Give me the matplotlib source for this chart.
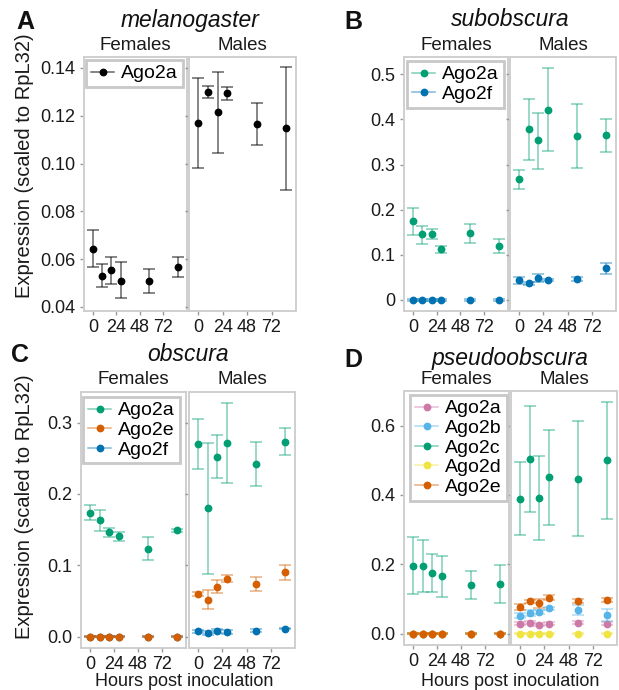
import matplotlib
matplotlib.use('Agg')
import matplotlib.pyplot as plt
from matplotlib.lines import Line2D

plt.rcParams['font.family'] = ['Liberation Sans', 'DejaVu Sans']

W, H = 619, 690
fig = plt.figure(figsize=(W / 100, H / 100), dpi=100)

# ---------------- data ----------------
hours = [0, 9.5, 19, 28.5, 57.5, 86.5]
xticks = [0, 24, 48, 72]

# A: melanogaster
a_f_ago2a = [0.0643, 0.0531, 0.0553, 0.0509, 0.0507, 0.0566]
a_f_ago2a_lo = [0.0566, 0.0485, 0.0496, 0.0438, 0.0457, 0.0526]
a_f_ago2a_hi = [0.0720, 0.0581, 0.0608, 0.0586, 0.0559, 0.0609]
a_m_ago2a = [0.1171, 0.1300, 0.1214, 0.1295, 0.1167, 0.1149]
a_m_ago2a_lo = [0.0983, 0.1274, 0.1045, 0.1264, 0.1078, 0.0890]
a_m_ago2a_hi = [0.1357, 0.1324, 0.1385, 0.1322, 0.1254, 0.1406]

# B: subobscura
b_f_ago2a = [0.174, 0.146, 0.146, 0.113, 0.148, 0.119]
b_f_ago2a_lo = [0.143, 0.125, 0.134, 0.105, 0.126, 0.105]
b_f_ago2a_hi = [0.204, 0.165, 0.158, 0.119, 0.169, 0.134]
b_f_ago2f = [0.0, 0.0, 0.0, 0.0, 0.0, 0.0]
b_f_ago2f_lo = [-0.002, -0.002, -0.002, -0.002, -0.002, -0.002]
b_f_ago2f_hi = [0.002, 0.002, 0.002, 0.002, 0.002, 0.002]
b_m_ago2a = [0.268, 0.379, 0.354, 0.422, 0.363, 0.365]
b_m_ago2a_lo = [0.246, 0.311, 0.291, 0.330, 0.292, 0.328]
b_m_ago2a_hi = [0.289, 0.446, 0.415, 0.515, 0.435, 0.402]
b_m_ago2f = [0.044, 0.038, 0.048, 0.044, 0.046, 0.070]
b_m_ago2f_lo = [0.035, 0.034, 0.039, 0.041, 0.041, 0.057]
b_m_ago2f_hi = [0.051, 0.040, 0.057, 0.046, 0.051, 0.082]

# C: obscura
c_f_ago2a = [0.174, 0.163, 0.146, 0.141, 0.123, 0.149]
c_f_ago2a_lo = [0.164, 0.148, 0.139, 0.134, 0.107, 0.147]
c_f_ago2a_hi = [0.185, 0.178, 0.152, 0.147, 0.140, 0.151]
c_f_ago2e = [0.0, 0.0, 0.0, 0.0, 0.0, 0.0]
c_f_ago2e_lo = [-0.001, -0.001, -0.001, -0.001, -0.001, -0.001]
c_f_ago2e_hi = [0.001, 0.001, 0.001, 0.001, 0.001, 0.001]
c_f_ago2f = [0.0, 0.0, 0.0, 0.0, 0.0, 0.0]
c_f_ago2f_lo = [-0.001, -0.001, -0.001, -0.001, -0.001, -0.001]
c_f_ago2f_hi = [0.001, 0.001, 0.001, 0.001, 0.001, 0.001]
c_m_ago2a = [0.270, 0.180, 0.252, 0.271, 0.242, 0.273]
c_m_ago2a_lo = [0.235, 0.088, 0.222, 0.216, 0.211, 0.254]
c_m_ago2a_hi = [0.305, 0.271, 0.283, 0.327, 0.273, 0.293]
c_m_ago2e = [0.060, 0.051, 0.069, 0.081, 0.074, 0.090]
c_m_ago2e_lo = [0.057, 0.038, 0.061, 0.076, 0.064, 0.079]
c_m_ago2e_hi = [0.062, 0.066, 0.079, 0.086, 0.084, 0.101]
c_m_ago2f = [0.0075, 0.0047, 0.0075, 0.0065, 0.0084, 0.011]
c_m_ago2f_lo = [0.0055, 0.0017, 0.0050, 0.0040, 0.0060, 0.0100]
c_m_ago2f_hi = [0.0095, 0.0077, 0.0100, 0.0090, 0.0108, 0.0120]

# D: pseudoobscura
d_zero = [0.0, 0.0, 0.0, 0.0, 0.0, 0.0]
d_zero_lo = [-0.002, -0.002, -0.002, -0.002, -0.002, -0.002]
d_zero_hi = [0.002, 0.002, 0.002, 0.002, 0.002, 0.002]
d_f_ago2c = [0.196, 0.194, 0.175, 0.165, 0.140, 0.143]
d_f_ago2c_lo = [0.114, 0.120, 0.120, 0.106, 0.101, 0.088]
d_f_ago2c_hi = [0.278, 0.269, 0.231, 0.224, 0.181, 0.199]
d_m_ago2a = [0.029, 0.031, 0.026, 0.028, 0.031, 0.029]
d_m_ago2a_lo = [0.025, 0.027, 0.022, 0.024, 0.027, 0.025]
d_m_ago2a_hi = [0.033, 0.035, 0.030, 0.032, 0.035, 0.033]
d_m_ago2b = [0.052, 0.059, 0.062, 0.073, 0.067, 0.054]
d_m_ago2b_lo = [0.044, 0.050, 0.056, 0.068, 0.053, 0.0375]
d_m_ago2b_hi = [0.060, 0.067, 0.068, 0.078, 0.082, 0.071]
d_m_ago2c = [0.389, 0.504, 0.391, 0.451, 0.446, 0.500]
d_m_ago2c_lo = [0.283, 0.351, 0.269, 0.313, 0.281, 0.331]
d_m_ago2c_hi = [0.496, 0.656, 0.512, 0.588, 0.612, 0.668]
d_m_ago2d = [0.0, 0.0, 0.0, 0.0, 0.0, 0.0]
d_m_ago2d_lo = [-0.002, -0.002, -0.002, -0.002, -0.002, -0.002]
d_m_ago2d_hi = [0.002, 0.002, 0.002, 0.002, 0.002, 0.002]
d_m_ago2e = [0.077, 0.093, 0.0875, 0.104, 0.093, 0.097]
d_m_ago2e_lo = [0.069, 0.088, 0.075, 0.096, 0.087, 0.092]
d_m_ago2e_hi = [0.084, 0.098, 0.101, 0.111, 0.099, 0.102]

# ---------------- styles ----------------
gene_color = {
    'Ago2a_mel': '#000000',
    'Ago2a': '#009E73',
    'Ago2b': '#56B4E9',
    'Ago2c': '#009E73',
    'Ago2d': '#F0E442',
    'Ago2e': '#D55E00',
    'Ago2f': '#0072B2',
    'Ago2a_pse': '#CC79A7',
}
SPINE = '#cfcfcf'
MS = 4.6
TICK_FS = 13
TXT = '#1a1a1a'


def px_axes(xl, xr, yt, yb):
    return fig.add_axes([xl / W, 1 - yb / H, (xr - xl) / W, (yb - yt) / H])


def draw_series(ax, mean, lo, hi, color, z=3, ealpha=0.5):
    yerr = [[m - l for m, l in zip(mean, lo)], [h - m for m, h in zip(mean, hi)]]
    ax.errorbar(hours, mean, yerr=yerr, fmt='none', ecolor=color, alpha=ealpha,
                elinewidth=1.1, capsize=4.0, capthick=1.1, zorder=z)
    ax.plot(hours, mean, 'o', color=color, ms=MS, ls='none', zorder=z + 0.5)


def style_axes(ax, ylim, yticks, yticklabels, left):
    ax.set_xlim(-9, 96)
    ax.set_ylim(*ylim)
    ax.set_xticks(xticks)
    ax.set_xticklabels([str(t) for t in xticks], fontsize=TICK_FS)
    ax.set_yticks(yticks)
    if left:
        ax.set_yticklabels(yticklabels, fontsize=TICK_FS)
    else:
        ax.set_yticklabels([])
        ax.tick_params(axis='y', length=0)
    for s in ax.spines.values():
        s.set_color(SPINE)
        s.set_linewidth(1.4)
    ax.tick_params(axis='both', direction='out', length=3, width=1,
                   color='#9a9a9a', labelcolor=TXT, pad=3)
    ax.set_facecolor('white')


def panel(xf, xm, yt, yb, ylim, yticks, yticklabels, fem, mal, legend_items,
          legend_pos, title, title_y, strip_y, letter, letter_xy):
    axf = px_axes(xf[0], xf[1], yt, yb)
    axm = px_axes(xm[0], xm[1], yt, yb)
    for s in fem:
        draw_series(axf, *s)
    for s in mal:
        draw_series(axm, *s)
    style_axes(axf, ylim, yticks, yticklabels, True)
    style_axes(axm, ylim, yticks, yticklabels, False)
    fig.text((xf[0] + xf[1]) / 2 / W, 1 - strip_y / H, 'Females', ha='center',
             va='center', fontsize=13.5, color=TXT)
    fig.text((xm[0] + xm[1]) / 2 / W, 1 - strip_y / H, 'Males', ha='center',
             va='center', fontsize=13.5, color=TXT)
    fig.text((xf[0] + xm[1]) / 2 / W, 1 - title_y / H, title, ha='center',
             va='center', fontsize=16.5, style='italic', color='#111111')
    fig.text(letter_xy[0] / W, 1 - letter_xy[1] / H, letter, ha='left',
             va='center', fontsize=18, fontweight='bold', color='#111111')
    handles = []
    labels = []
    for name, col, ealpha in legend_items:
        light = matplotlib.colors.to_rgba(col, ealpha)
        handles.append(Line2D([0], [0], color=light, lw=1.1, marker='o', ms=MS,
                              markerfacecolor=col, markeredgecolor=col))
        labels.append(name)
    leg = fig.legend(handles, labels, loc='upper left',
                     bbox_to_anchor=(legend_pos[0] / W, 1 - legend_pos[1] / H),
                     bbox_transform=fig.transFigure, fontsize=14, frameon=True,
                     fancybox=False, handlelength=1.2, handletextpad=0.35,
                     borderpad=0.25, labelspacing=0.1, borderaxespad=0,
                     framealpha=1)
    leg.set_zorder(10)
    leg.get_frame().set_edgecolor('#c8c8c8')
    leg.get_frame().set_linewidth(2.0)
    return axf, axm


# Panel A
panel((84, 187), (189, 296), 57, 311, (0.0383, 0.1446),
      [0.04, 0.06, 0.08, 0.10, 0.12, 0.14],
      ['0.04', '0.06', '0.08', '0.10', '0.12', '0.14'],
      [(a_f_ago2a, a_f_ago2a_lo, a_f_ago2a_hi, gene_color['Ago2a_mel'], 3, 0.6)],
      [(a_m_ago2a, a_m_ago2a_lo, a_m_ago2a_hi, gene_color['Ago2a_mel'], 3, 0.6)],
      [('Ago2a', gene_color['Ago2a_mel'], 0.6)],
      (86, 60), 'melanogaster', 20, 45, 'A', (16, 22))

# Panel B
panel((404, 508), (510, 616), 57, 311, (-0.0245, 0.5385),
      [0, 0.1, 0.2, 0.3, 0.4, 0.5],
      ['0', '0.1', '0.2', '0.3', '0.4', '0.5'],
      [(b_f_ago2a, b_f_ago2a_lo, b_f_ago2a_hi, gene_color['Ago2a'], 3),
       (b_f_ago2f, b_f_ago2f_lo, b_f_ago2f_hi, gene_color['Ago2f'], 4)],
      [(b_m_ago2a, b_m_ago2a_lo, b_m_ago2a_hi, gene_color['Ago2a'], 3),
       (b_m_ago2f, b_m_ago2f_lo, b_m_ago2f_hi, gene_color['Ago2f'], 4)],
      [('Ago2a', gene_color['Ago2a'], 0.5), ('Ago2f', gene_color['Ago2f'], 0.5)],
      (407, 61), 'subobscura', 20, 45, 'B', (344, 22))

# Panel C
panel((81, 186), (189, 295), 392, 648, (-0.016, 0.343),
      [0.0, 0.1, 0.2, 0.3],
      ['0.0', '0.1', '0.2', '0.3'],
      [(c_f_ago2a, c_f_ago2a_lo, c_f_ago2a_hi, gene_color['Ago2a'], 3),
       (c_f_ago2f, c_f_ago2f_lo, c_f_ago2f_hi, gene_color['Ago2f'], 4),
       (c_f_ago2e, c_f_ago2e_lo, c_f_ago2e_hi, gene_color['Ago2e'], 5)],
      [(c_m_ago2a, c_m_ago2a_lo, c_m_ago2a_hi, gene_color['Ago2a'], 3),
       (c_m_ago2e, c_m_ago2e_lo, c_m_ago2e_hi, gene_color['Ago2e'], 4),
       (c_m_ago2f, c_m_ago2f_lo, c_m_ago2f_hi, gene_color['Ago2f'], 5)],
      [('Ago2a', gene_color['Ago2a'], 0.5), ('Ago2e', gene_color['Ago2e'], 0.5),
       ('Ago2f', gene_color['Ago2f'], 0.5)],
      (83, 397), 'obscura', 355, 379, 'C', (11, 355))

# Panel D
panel((404, 509), (511, 617), 391, 645, (-0.033, 0.70),
      [0.0, 0.2, 0.4, 0.6],
      ['0.0', '0.2', '0.4', '0.6'],
      [(d_f_ago2c, d_f_ago2c_lo, d_f_ago2c_hi, gene_color['Ago2c'], 3),
       (d_zero, d_zero_lo, d_zero_hi, gene_color['Ago2a_pse'], 4),
       (d_zero, d_zero_lo, d_zero_hi, gene_color['Ago2b'], 4),
       (d_zero, d_zero_lo, d_zero_hi, gene_color['Ago2d'], 5),
       (d_zero, d_zero_lo, d_zero_hi, gene_color['Ago2e'], 6)],
      [(d_m_ago2a, d_m_ago2a_lo, d_m_ago2a_hi, gene_color['Ago2a_pse'], 3),
       (d_m_ago2b, d_m_ago2b_lo, d_m_ago2b_hi, gene_color['Ago2b'], 4),
       (d_m_ago2c, d_m_ago2c_lo, d_m_ago2c_hi, gene_color['Ago2c'], 5),
       (d_m_ago2d, d_m_ago2d_lo, d_m_ago2d_hi, gene_color['Ago2d'], 6),
       (d_m_ago2e, d_m_ago2e_lo, d_m_ago2e_hi, gene_color['Ago2e'], 7)],
      [('Ago2a', gene_color['Ago2a_pse'], 0.5), ('Ago2b', gene_color['Ago2b'], 0.5),
       ('Ago2c', gene_color['Ago2c'], 0.5), ('Ago2d', gene_color['Ago2d'], 0.5),
       ('Ago2e', gene_color['Ago2e'], 0.5)],
      (410, 395), 'pseudoobscura', 359, 379, 'D', (344, 360))

# axis titles
for yc in (166, 507):
    fig.text(25 / W, 1 - yc / H, 'Expression (scaled to RpL32)', rotation=90,
             ha='center', va='center', fontsize=14.5, color=TXT)
for xc in (184, 510):
    fig.text(xc / W, 1 - 681 / H, 'Hours post inoculation', ha='center',
             va='center', fontsize=13, color=TXT)

fig.savefig('out.png', dpi=100)
